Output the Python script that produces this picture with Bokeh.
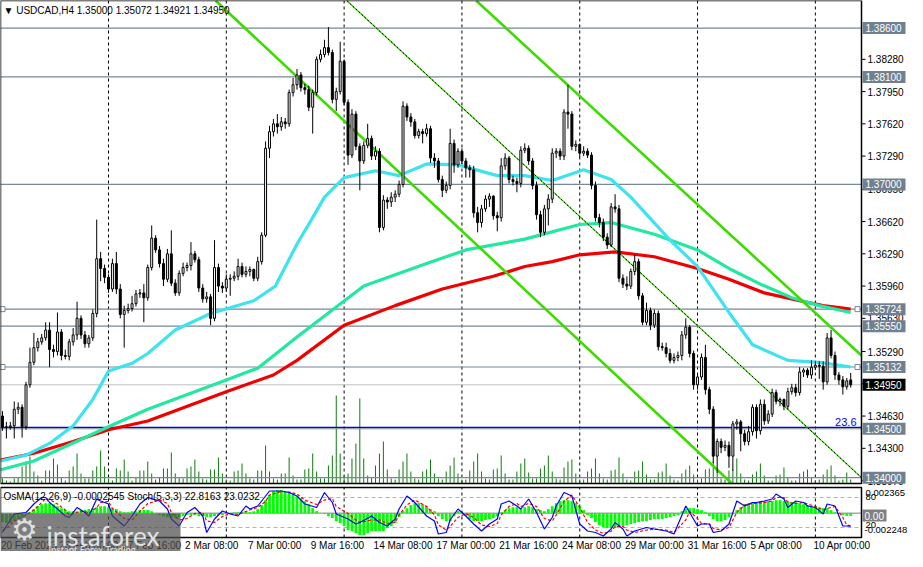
import numpy as np
from bokeh.plotting import figure
from bokeh.models import Range1d
from bokeh.core.properties import value
from bokeh.embed import file_html
from bokeh.resources import INLINE

FONT = "Liberation Sans"

# ---------------- data ----------------
header_text = "\u25bc USDCAD,H4  1.35000 1.35072 1.34921 1.34950"
indicator_text = "OsMA(12,26,9) -0.0002545  Stoch(5,3,3) 22.8163 23.0232"

opens = [
 1.3463, 1.3452, 1.3452, 1.3453, 1.3470, 1.3472, 1.3452, 1.3495, 1.3518, 1.3533,
 1.3539, 1.3543, 1.3551, 1.3531, 1.3529, 1.3549, 1.3525, 1.3524, 1.3539, 1.3546,
 1.3563, 1.3546, 1.3537, 1.3543, 1.3568, 1.3624, 1.3614, 1.3605, 1.3593, 1.3619,
 1.3593, 1.3567, 1.3571, 1.3573, 1.3578, 1.3588, 1.3589, 1.3584, 1.3615, 1.3645,
 1.3633, 1.3619, 1.3603, 1.3629, 1.3599, 1.3589, 1.3609, 1.3615, 1.3617, 1.3629,
 1.3623, 1.3594, 1.3583, 1.3585, 1.3563, 1.3615, 1.3596, 1.3594, 1.3603, 1.3604,
 1.3606, 1.3616, 1.3608, 1.3611, 1.3613, 1.3604, 1.3621, 1.3648, 1.3737, 1.3754,
 1.3762, 1.3759, 1.3764, 1.3762, 1.3794, 1.3802, 1.3812, 1.3799, 1.3797, 1.3779,
 1.3794, 1.3828, 1.3833, 1.3840, 1.3835, 1.3787, 1.3795, 1.3826, 1.3784, 1.3730,
 1.3772, 1.3739, 1.3724, 1.3740, 1.3747, 1.3729, 1.3734, 1.3656, 1.3684, 1.3682,
 1.3687, 1.3690, 1.3700, 1.3780, 1.3769, 1.3764, 1.3750, 1.3754, 1.3752, 1.3757,
 1.3727, 1.3724, 1.3705, 1.3694, 1.3699, 1.3742, 1.3720, 1.3734, 1.3724, 1.3717,
 1.3715, 1.3671, 1.3661, 1.3675, 1.3685, 1.3688, 1.3668, 1.3666, 1.3719, 1.3727,
 1.3705, 1.3703, 1.3701, 1.3735, 1.3737, 1.3724, 1.3699, 1.3669, 1.3651, 1.3675,
 1.3685, 1.3732, 1.3734, 1.3729, 1.3774, 1.3772, 1.3739, 1.3741, 1.3732, 1.3734,
 1.3730, 1.3699, 1.3666, 1.3661, 1.3646, 1.3638, 1.3677, 1.3675, 1.3604, 1.3598,
 1.3596, 1.3611, 1.3621, 1.3586, 1.3559, 1.3571, 1.3556, 1.3568, 1.3534, 1.3533,
 1.3527, 1.3520, 1.3523, 1.3525, 1.3546, 1.3554, 1.3527, 1.3495, 1.3503, 1.3523,
 1.3490, 1.3470, 1.3422, 1.3437, 1.3431, 1.3433, 1.3422, 1.3455, 1.3457, 1.3445,
 1.3437, 1.3447, 1.3472, 1.3448, 1.3475, 1.3458, 1.3465, 1.3487, 1.3478, 1.3480,
 1.3473, 1.3488, 1.3492, 1.3487, 1.3508, 1.3510, 1.3505, 1.3513, 1.3515, 1.3514,
 1.3498, 1.3543, 1.3525, 1.3505, 1.3500, 1.3493, 1.35000]

highs = [
 1.3468, 1.3457, 1.3457, 1.3478, 1.3477, 1.3475, 1.3498, 1.3533, 1.3548, 1.3543,
 1.3547, 1.3559, 1.3559, 1.3536, 1.3569, 1.3552, 1.3531, 1.3542, 1.3553, 1.3580,
 1.3566, 1.3550, 1.3546, 1.3572, 1.3664, 1.3631, 1.3618, 1.3608, 1.3624, 1.3631,
 1.3598, 1.3576, 1.3578, 1.3586, 1.3592, 1.3593, 1.3598, 1.3618, 1.3658, 1.3648,
 1.3637, 1.3624, 1.3634, 1.3653, 1.3603, 1.3612, 1.3620, 1.3620, 1.3641, 1.3632,
 1.3626, 1.3598, 1.3590, 1.3588, 1.3643, 1.3619, 1.3600, 1.3608, 1.3608, 1.3611,
 1.3624, 1.3620, 1.3616, 1.3616, 1.3614, 1.3626, 1.3651, 1.3744, 1.3760, 1.3767,
 1.3772, 1.3769, 1.3768, 1.3797, 1.3809, 1.3818, 1.3815, 1.3803, 1.3801, 1.3797,
 1.3831, 1.3838, 1.3848, 1.3861, 1.3838, 1.3799, 1.3846, 1.3828, 1.3787, 1.3777,
 1.3775, 1.3742, 1.3744, 1.3762, 1.3750, 1.3739, 1.3737, 1.3689, 1.3687, 1.3692,
 1.3694, 1.3704, 1.3785, 1.3783, 1.3773, 1.3767, 1.3757, 1.3757, 1.3762, 1.3760,
 1.3732, 1.3727, 1.3709, 1.3703, 1.3757, 1.3746, 1.3737, 1.3737, 1.3727, 1.3720,
 1.3719, 1.3677, 1.3679, 1.3689, 1.3691, 1.3689, 1.3672, 1.3727, 1.3732, 1.3729,
 1.3709, 1.3707, 1.3739, 1.3742, 1.3740, 1.3727, 1.3703, 1.3673, 1.3679, 1.3690,
 1.3737, 1.3737, 1.3737, 1.3777, 1.3802, 1.3775, 1.3745, 1.3742, 1.3739, 1.3737,
 1.3733, 1.3703, 1.3670, 1.3665, 1.3650, 1.3681, 1.3690, 1.3679, 1.3608, 1.3606,
 1.3614, 1.3628, 1.3624, 1.3589, 1.3579, 1.3574, 1.3572, 1.3571, 1.3538, 1.3538,
 1.3532, 1.3527, 1.3529, 1.3550, 1.3563, 1.3556, 1.3530, 1.3507, 1.3527, 1.3536,
 1.3493, 1.3473, 1.3440, 1.3440, 1.3438, 1.3437, 1.3458, 1.3460, 1.3459, 1.3449,
 1.3453, 1.3475, 1.3475, 1.3480, 1.3480, 1.3469, 1.3491, 1.3490, 1.3482, 1.3481,
 1.3492, 1.3496, 1.3496, 1.3513, 1.3512, 1.3512, 1.3520, 1.3519, 1.3519, 1.3519,
 1.3548, 1.3551, 1.3529, 1.3508, 1.3504, 1.3502, 1.35072]

lows = [
 1.3448, 1.3440, 1.3449, 1.3440, 1.3465, 1.3441, 1.3449, 1.3492, 1.3515, 1.3529,
 1.3536, 1.3540, 1.3513, 1.3523, 1.3525, 1.3520, 1.3521, 1.3520, 1.3535, 1.3541,
 1.3542, 1.3533, 1.3533, 1.3540, 1.3564, 1.3601, 1.3599, 1.3589, 1.3590, 1.3588,
 1.3563, 1.3533, 1.3568, 1.3570, 1.3575, 1.3584, 1.3559, 1.3581, 1.3612, 1.3630,
 1.3615, 1.3596, 1.3600, 1.3596, 1.3586, 1.3586, 1.3606, 1.3611, 1.3612, 1.3620,
 1.3590, 1.3579, 1.3579, 1.3556, 1.3560, 1.3590, 1.3589, 1.3590, 1.3586, 1.3601,
 1.3602, 1.3605, 1.3605, 1.3606, 1.3601, 1.3601, 1.3618, 1.3646, 1.3727, 1.3749,
 1.3752, 1.3755, 1.3757, 1.3759, 1.3790, 1.3797, 1.3795, 1.3792, 1.3775, 1.3752,
 1.3791, 1.3825, 1.3830, 1.3832, 1.3783, 1.3775, 1.3792, 1.3781, 1.3720, 1.3727,
 1.3735, 1.3694, 1.3721, 1.3737, 1.3725, 1.3725, 1.3651, 1.3653, 1.3675, 1.3677,
 1.3682, 1.3687, 1.3697, 1.3765, 1.3759, 1.3747, 1.3747, 1.3742, 1.3749, 1.3722,
 1.3717, 1.3702, 1.3687, 1.3691, 1.3695, 1.3712, 1.3717, 1.3721, 1.3707, 1.3707,
 1.3666, 1.3651, 1.3656, 1.3672, 1.3677, 1.3664, 1.3652, 1.3662, 1.3715, 1.3701,
 1.3699, 1.3692, 1.3697, 1.3732, 1.3720, 1.3695, 1.3664, 1.3646, 1.3648, 1.3658,
 1.3681, 1.3727, 1.3725, 1.3725, 1.3757, 1.3735, 1.3734, 1.3728, 1.3729, 1.3727,
 1.3695, 1.3662, 1.3656, 1.3642, 1.3634, 1.3636, 1.3671, 1.3600, 1.3594, 1.3592,
 1.3593, 1.3607, 1.3582, 1.3556, 1.3556, 1.3551, 1.3553, 1.3530, 1.3530, 1.3523,
 1.3517, 1.3517, 1.3519, 1.3520, 1.3542, 1.3523, 1.3490, 1.3490, 1.3500, 1.3485,
 1.3465, 1.3415, 1.3405, 1.3425, 1.3427, 1.3410, 1.3407, 1.3449, 1.3427, 1.3433,
 1.3433, 1.3443, 1.3440, 1.3444, 1.3454, 1.3455, 1.3462, 1.3475, 1.3473, 1.3469,
 1.3470, 1.3485, 1.3483, 1.3484, 1.3503, 1.3502, 1.3501, 1.3510, 1.3501, 1.3490,
 1.3495, 1.3522, 1.3500, 1.3495, 1.3485, 1.3490, 1.34921]

closes = [
 1.3452, 1.3452, 1.3453, 1.3470, 1.3472, 1.3452, 1.3495, 1.3518, 1.3533, 1.3539,
 1.3543, 1.3551, 1.3531, 1.3529, 1.3549, 1.3525, 1.3524, 1.3539, 1.3546, 1.3563,
 1.3546, 1.3537, 1.3543, 1.3568, 1.3624, 1.3614, 1.3605, 1.3593, 1.3619, 1.3593,
 1.3567, 1.3571, 1.3573, 1.3578, 1.3588, 1.3589, 1.3584, 1.3615, 1.3645, 1.3633,
 1.3619, 1.3603, 1.3629, 1.3599, 1.3589, 1.3609, 1.3615, 1.3617, 1.3629, 1.3623,
 1.3594, 1.3583, 1.3585, 1.3563, 1.3615, 1.3596, 1.3594, 1.3603, 1.3604, 1.3606,
 1.3616, 1.3608, 1.3611, 1.3613, 1.3604, 1.3621, 1.3648, 1.3737, 1.3754, 1.3762,
 1.3759, 1.3764, 1.3762, 1.3794, 1.3802, 1.3812, 1.3799, 1.3797, 1.3779, 1.3794,
 1.3828, 1.3833, 1.3840, 1.3835, 1.3787, 1.3795, 1.3826, 1.3784, 1.3730, 1.3772,
 1.3739, 1.3724, 1.3740, 1.3747, 1.3729, 1.3734, 1.3656, 1.3684, 1.3682, 1.3687,
 1.3690, 1.3700, 1.3780, 1.3769, 1.3764, 1.3750, 1.3754, 1.3752, 1.3757, 1.3727,
 1.3724, 1.3705, 1.3694, 1.3699, 1.3742, 1.3720, 1.3734, 1.3724, 1.3717, 1.3715,
 1.3671, 1.3661, 1.3675, 1.3685, 1.3688, 1.3668, 1.3666, 1.3719, 1.3727, 1.3705,
 1.3703, 1.3701, 1.3735, 1.3737, 1.3724, 1.3699, 1.3669, 1.3651, 1.3675, 1.3685,
 1.3732, 1.3734, 1.3729, 1.3774, 1.3772, 1.3739, 1.3741, 1.3732, 1.3734, 1.3730,
 1.3699, 1.3666, 1.3661, 1.3646, 1.3638, 1.3677, 1.3675, 1.3604, 1.3598, 1.3596,
 1.3611, 1.3621, 1.3586, 1.3559, 1.3571, 1.3556, 1.3568, 1.3534, 1.3533, 1.3527,
 1.3520, 1.3523, 1.3525, 1.3546, 1.3554, 1.3527, 1.3495, 1.3503, 1.3523, 1.3490,
 1.3470, 1.3422, 1.3437, 1.3431, 1.3433, 1.3422, 1.3455, 1.3457, 1.3445, 1.3437,
 1.3447, 1.3472, 1.3448, 1.3475, 1.3458, 1.3465, 1.3487, 1.3478, 1.3480, 1.3473,
 1.3488, 1.3492, 1.3487, 1.3508, 1.3510, 1.3505, 1.3513, 1.3515, 1.3514, 1.3498,
 1.3543, 1.3525, 1.3505, 1.3500, 1.3493, 1.3499, 1.34950]

volumes = [
 250, 150, 100, 250, 300, 850, 1100, 1350, 600, 400,
 150, 650, 650, 1250, 950, 300, 150, 650, 850, 1500,
 500, 250, 250, 650, 850, 1650, 850, 250, 150, 750,
 650, 1200, 600, 150, 300, 650, 650, 1100, 500, 200,
 300, 750, 750, 1550, 500, 300, 250, 750, 850, 1200,
 600, 250, 200, 700, 700, 1300, 500, 200, 150, 600,
 650, 1000, 500, 250, 200, 650, 650, 1900, 600, 250,
 200, 500, 500, 1300, 400, 200, 200, 700, 750, 1500,
 600, 250, 250, 900, 1400, 4400, 1500, 400, 500, 1250,
 2000, 4250, 1250, 400, 300, 900, 1500, 2100, 700, 250,
 200, 700, 1100, 1500, 600, 250, 200, 600, 700, 1200,
 500, 250, 200, 600, 900, 1300, 500, 200, 200, 650,
 1100, 1500, 600, 250, 200, 700, 750, 1400, 500, 200,
 200, 600, 1000, 1250, 550, 250, 250, 750, 900, 1400,
 600, 250, 200, 800, 1100, 1200, 500, 200, 200, 600,
 750, 1250, 500, 250, 200, 650, 700, 1300, 500, 200,
 150, 600, 650, 1100, 450, 200, 200, 550, 600, 1000,
 400, 200, 150, 500, 700, 900, 450, 200, 250, 700,
 750, 1100, 600, 250, 200, 650, 700, 1250, 500, 200,
 150, 450, 600, 1000, 400, 150, 150, 400, 450, 800,
 300, 150, 150, 500, 600, 700, 300, 150, 200, 450,
 700, 900, 400, 150, 200, 550, 200]

# moving averages (bar index, price)
ma_fast_bars = [-0.5, 6, 12, 18, 23, 27, 33, 37, 44, 53, 64, 69.5, 75, 79, 82, 87, 95, 101,
                108, 116, 126, 133, 140, 148, 155, 160, 170, 177, 185, 191, 200, 208, 216]
ma_fast = [1.3417, 1.3423, 1.3435, 1.3453, 1.3480, 1.3509, 1.3517, 1.3527, 1.3551, 1.3568,
           1.3581, 1.3596, 1.3639, 1.3666, 1.3687, 1.3707, 1.3714, 1.3709, 1.3721, 1.3720,
           1.3709, 1.3709, 1.3704, 1.3715, 1.3705, 1.3687, 1.3643, 1.3616, 1.3569, 1.3536,
           1.3520, 1.3518, 1.35132]
ma_mid_bars = [-0.5, 8, 27, 37, 57, 65, 75, 92, 108, 118, 133, 147, 155, 166, 177, 185,
               193, 201, 208, 216]
ma_mid = [1.3408, 1.3417, 1.3452, 1.3470, 1.3500, 1.3512, 1.3544, 1.3596, 1.3619, 1.3633,
          1.3644, 1.3659, 1.3661, 1.3649, 1.3633, 1.3614, 1.3598, 1.3584, 1.3576, 1.3569]
ma_slow_bars = [-0.5, 8, 18, 27, 37, 57, 69, 75, 87, 100, 112, 125, 133, 140, 147, 156,
                166, 177, 185, 194, 203, 209, 216]
ma_slow = [1.3418, 1.3425, 1.3437, 1.3449, 1.3458, 1.3488, 1.3505, 1.3520, 1.3556, 1.3576,
           1.3593, 1.3606, 1.3616, 1.3621, 1.3628, 1.3631, 1.3626, 1.3614, 1.3603, 1.3589,
           1.3581, 1.3576, 1.35724]

# channel lines (bar index, price)
chan_a_bars, chan_a_prices = [54.3, 185.75], [1.3888, 1.3394]
chan_b_bars, chan_b_prices = [120.65, 218.75], [1.3888, 1.3525]
chan_c_bars, chan_c_prices = [87.7, 218.75], [1.3888, 1.3400]

levels = [1.38600, 1.38100, 1.37000, 1.35724, 1.35550, 1.35132, 1.34500, 1.34000]
anchored_levels = [1.35724, 1.35132]
bid = 1.34950
fib_236 = 1.34515
price_ticks = [1.3397, 1.3430, 1.3463, 1.3496, 1.3529, 1.3563, 1.3596, 1.3629, 1.3662,
               1.3695, 1.3729, 1.3762, 1.3795, 1.3828]
price_top, price_bottom = 1.38882, 1.33940

time_labels = ["20 Feb 2023", "23 Feb 00:00", "27 Feb 16:00", "2 Mar 08:00", "7 Mar 00:00",
               "9 Mar 16:00", "14 Mar 08:00", "17 Mar 00:00", "21 Mar 16:00", "24 Mar 08:00",
               "29 Mar 00:00", "31 Mar 16:00", "5 Apr 08:00", "10 Apr 00:00"]
time_label_bars = [-0.9, 14, 30, 46, 62, 78, 94, 110, 126, 142, 158, 174, 190, 206]
grid_bars = [27, 57, 87, 117, 147, 177, 207]

# OsMA histogram (units of 0.0001)
osma_e4 = [
 -8.3, -9.2, -9.2, -7.4, -5.5, -3.7, -1.8, 0.9, 3.7, 6.4,
 8.3, 9.2, 9.2, 8.3, 6.4, 4.6, 2.8, 1.8, 1.8, 1.8,
 2.8, 2.8, 3.7, 4.6, 5.5, 6.4, 6.4, 5.5, 4.6, 3.7,
 1.8, 0.9, 0.9, 1.8, 1.8, 2.8, 2.8, 2.8, 1.8, 0.2,
 -1.8, -2.8, -3.7, -4.6, -4.6, -3.7, -2.8, -1.8, -1.8, -1.8,
 -2.8, -2.8, -3.7, -3.7, -2.8, -1.8, -1.8, -0.9, -0.2, 0.9,
 0.9, 0.9, 1.8, 0.9, 1.8, 3.7, 7.4, 12.0, 16.6, 20.3,
 21.2, 21.2, 20.3, 19.4, 17.5, 15.7, 13.8, 11.1, 8.3, 4.6,
 1.8, 0.2, -0.9, -2.8, -4.6, -7.4, -9.2, -12.0, -15.7, -16.6,
 -18.5, -20.3, -20.3, -18.5, -16.6, -16.6, -16.6, -16.6, -13.8, -12.0,
 -9.2, -3.7, 1.8, 4.6, 7.4, 9.2, 9.2, 8.3, 6.4, 3.7,
 1.8, -2.8, -5.5, -7.4, -7.4, -2.8, 1.8, 0.9, -2.8, -5.5,
 -7.4, -7.4, -7.4, -6.4, -5.5, -4.6, -2.8, 0.9, 2.8, 4.6,
 5.5, 5.5, 4.6, 5.5, 6.4, 5.5, 3.7, 2.8, 1.8, 3.7,
 6.4, 9.2, 11.1, 12.0, 12.0, 11.1, 9.2, 6.4, 2.8, -1.8,
 -4.6, -8.3, -11.1, -12.9, -13.8, -13.8, -13.8, -12.9, -12.0, -11.1,
 -10.1, -9.2, -8.3, -7.4, -7.4, -6.4, -5.5, -5.5, -5.5, -4.6,
 -3.7, -2.8, -1.8, 1.8, 3.7, 4.6, 4.6, 3.7, 2.8, 0.9,
 -2.8, -5.5, -7.4, -7.4, -6.4, -3.7, -0.9, 2.8, 5.5, 8.3,
 9.2, 10.1, 10.1, 11.1, 11.1, 11.1, 11.1, 12.0, 12.0, 11.1,
 11.1, 10.1, 10.1, 9.2, 8.3, 7.4, 6.4, 6.4, 5.5, 4.6,
 4.6, 2.8, 0.9, -0.9, -1.8, -2.545, -2.545]
osma_top, osma_bottom = 0.002365, -0.002248

stoch_bars = [0, 1, 3, 6, 8, 10, 11, 12, 14, 16, 17, 19, 21, 22, 24, 25, 27, 28, 31, 33,
              35, 37, 40, 42, 43, 45, 47, 49, 51, 52, 54, 56, 58, 60, 62, 63, 65, 67, 68, 71,
              73, 75, 77, 80, 82, 84, 85, 88, 90, 91, 94, 96, 98, 100, 101, 103, 105, 108, 110, 111,
              113, 114, 116, 118, 120, 122, 124, 126, 127, 129, 131, 132, 134, 136, 138, 140, 141, 143, 145, 147,
              149, 151, 153, 155, 156, 158, 159, 161, 164, 166, 169, 171, 174, 175, 177, 178, 180, 181, 183, 185,
              187, 189, 191, 192, 194, 196, 197, 199, 200, 202, 204, 205, 207, 209, 210, 212, 214, 215, 216]
stoch_main = [10, 23, 47, 50, 67, 80, 80, 70, 57, 43, 40, 60, 50, 43, 77, 73, 67, 43, 23, 43,
              67, 80, 73, 57, 37, 23, 50, 60, 43, 10, 37, 53, 47, 43, 63, 57, 63, 83, 93, 93,
              90, 83, 67, 60, 90, 70, 47, 37, 27, 30, 43, 30, 23, 37, 57, 83, 70, 43, 33, 7,
              10, 35, 57, 43, 27, 13, 27, 37, 67, 73, 63, 57, 77, 50, 17, 40, 63, 90, 83, 27,
              13, 10, 3, 17, 30, 17, 3, 13, 20, 17, 13, 7, 63, 50, 23, 27, 27, 10, 13, 27,
              73, 63, 70, 70, 73, 77, 87, 77, 60, 73, 70, 63, 60, 47, 67, 63, 23, 23, 22.8163]
stoch_signal = [15, 18, 33, 45, 55, 70, 78, 76, 67, 55, 45, 50, 53, 48, 60, 70, 72, 58, 38, 35,
                52, 68, 75, 68, 50, 35, 38, 48, 50, 33, 30, 42, 48, 46, 52, 55, 60, 72, 85, 92,
                91, 87, 75, 66, 75, 78, 62, 48, 35, 30, 35, 35, 28, 30, 45, 65, 75, 62, 45, 25,
                15, 22, 40, 48, 40, 25, 22, 28, 45, 62, 68, 62, 68, 62, 38, 33, 45, 72, 85, 60,
                30, 15, 8, 12, 22, 22, 15, 10, 15, 17, 15, 10, 35, 52, 38, 28, 27, 18, 15, 20,
                50, 65, 68, 68, 70, 73, 80, 80, 70, 68, 70, 67, 62, 55, 58, 62, 40, 25, 23.0232]
stoch_levels = [80, 20]

# ---------------- layout (pixels of the 907x551 canvas) ----------------
W, H = 907, 551
MAIN_TOP, MAIN_BOT = 0, 483
IND_TOP, IND_BOT = 487, 537
X0, X_BORDER = -0.5, 218.75
BPP = (X_BORDER - X0) / 861.0          # bars per pixel
X_END = X0 + W * BPP


def px(n):
    return n * BPP


def fit_range(v_top, px_top, v_bot, px_bot):
    per = (v_top - v_bot) / float(px_bot - px_top)
    return Range1d(start=v_bot - (H - px_bot) * per, end=v_top + px_top * per)


p = figure(width=W, height=H, x_range=Range1d(X0, X_END),
           y_range=fit_range(price_top, MAIN_TOP, price_bottom, MAIN_BOT),
           toolbar_location=None, output_backend="svg",
           min_border_left=0, min_border_right=0, min_border_top=0, min_border_bottom=0,
           x_axis_location=None, y_axis_location=None, outline_line_color=None,
           background_fill_color="white", border_fill_color="white")
p.grid.visible = False
VOL_PER_PX = 50
p.extra_y_ranges = {
    "vol": fit_range(VOL_PER_PX * (MAIN_BOT - MAIN_TOP), MAIN_TOP, 0, MAIN_BOT),
    "stoch": fit_range(100, IND_TOP, 0, IND_BOT),
    "osma": fit_range(osma_top, IND_TOP, osma_bottom, IND_BOT),
}

n = len(closes)
bars = np.arange(n)
o = np.array(opens)
c = np.array(closes)
hi = np.array(highs)
lo = np.array(lows)


def txt(x, y, t, size="10px", color="black", align="left", baseline="middle",
        font=FONT, yr="default"):
    xs = x if isinstance(x, (list, tuple)) else [x]
    ys = y if isinstance(y, (list, tuple)) else [y]
    ts = t if isinstance(t, (list, tuple)) else [t]
    p.text(x=xs, y=ys, text=ts, text_font=value(font), text_font_size=value(size),
           text_color=color, text_align=align, text_baseline=baseline, y_range_name=yr)


# ======== main panel ========
ng = len(grid_bars)
p.segment(x0=grid_bars, x1=grid_bars, y0=[price_bottom] * ng, y1=[price_top] * ng,
          line_color="black", line_width=1, line_dash="3 3")

p.segment(x0=bars, y0=np.zeros(n), x1=bars, y1=np.array(volumes), y_range_name="vol",
          line_color="#0f7a0f", line_width=1)

nl = len(levels)
p.segment(x0=[X0] * nl, x1=[X_BORDER] * nl, y0=levels, y1=levels,
          line_color="#778899", line_width=1.2)
p.segment(x0=[X0], x1=[X_BORDER], y0=[bid], y1=[bid], line_color="#c0c0c0", line_width=1)
p.segment(x0=[X0], x1=[X_BORDER], y0=[fib_236], y1=[fib_236], line_color="#0000ff",
          line_width=1.2)

p.line(ma_slow_bars, ma_slow, line_color="#f00000", line_width=3.2, line_join="round")
p.line(ma_mid_bars, ma_mid, line_color="#22e8a0", line_width=3.2, line_join="round")
p.line(ma_fast_bars, ma_fast, line_color="#3ee3ef", line_width=3.2, line_join="round")

p.line(chan_a_bars, chan_a_prices, line_color="#3cdc00", line_width=2.6)
p.line(chan_b_bars, chan_b_prices, line_color="#3cdc00", line_width=2.6)
p.line(chan_c_bars, chan_c_prices, line_color="#3cdc00", line_width=1.2)
p.line(chan_c_bars, chan_c_prices, line_color="black", line_width=1, line_dash="2 2")

na = len(anchored_levels)
p.scatter(x=[X0 + px(2)] * na + [X_BORDER - px(4)] * na, y=anchored_levels + anchored_levels,
          marker="square", size=5, fill_color="white", line_color="#778899", line_width=1)

up = c >= o
p.segment(x0=bars, y0=lo, x1=bars, y1=hi, line_color="black", line_width=1)
p.vbar(x=bars[up], top=c[up], bottom=o[up], width=0.5, fill_color="white",
       line_color="black", line_width=1)
p.vbar(x=bars[~up], top=o[~up], bottom=c[~up], width=0.5, fill_color="black",
       line_color="black", line_width=1)

# panel frame
p.quad(left=[X0], right=[X_BORDER], bottom=[price_bottom], top=[price_top],
       fill_color=None, line_color="black", line_width=1.5)

# price scale on the right
nt = len(price_ticks)
p.segment(x0=[X_BORDER] * nt, x1=[X_BORDER + px(4)] * nt, y0=price_ticks, y1=price_ticks,
          line_color="black", line_width=1)
txt([X_BORDER + px(6)] * nt, price_ticks, [f"{t:.5f}" for t in price_ticks])

box_x = X_BORDER + px(1 + 21.5)
p.rect(x=[box_x] * nl, y=levels, width=43, height=12, width_units="screen",
       height_units="screen", fill_color="#708090", line_color=None)
p.rect(x=[box_x], y=[bid], width=43, height=12, width_units="screen",
       height_units="screen", fill_color="black", line_color=None)
txt([X_BORDER + px(4)] * nl, levels, [f"{v:.5f}" for v in levels], color="white")
txt(X_BORDER + px(4), bid, f"{bid:.5f}", color="white")

txt(X0 + px(3), price_top - 10 * (price_top - price_bottom) / 491.0, header_text)
txt(X_BORDER - px(5), fib_236 + 0.00057, "23.6", size="11px", color="#0000ff", align="right")

# ======== indicator panel ========
p.segment(x0=grid_bars, x1=grid_bars, y0=[0] * ng, y1=[100] * ng, y_range_name="stoch",
          line_color="black", line_width=1, line_dash="3 3")
p.segment(x0=[X0] * 2, x1=[X_BORDER] * 2, y0=stoch_levels, y1=stoch_levels,
          y_range_name="stoch", line_color="#b4b4b4", line_width=1, line_dash="4 3")
p.segment(x0=[X0], x1=[X_BORDER], y0=[0], y1=[0], y_range_name="osma",
          line_color="#808080", line_width=1)
osma = np.array(osma_e4) * 1e-4
p.vbar(x=bars, top=osma, bottom=np.zeros(n), width=0.72, y_range_name="osma",
       fill_color="#00ff00", line_color=None)
p.line(stoch_bars, stoch_signal, y_range_name="stoch", line_color="#ff0000",
       line_width=1.2, line_dash="3 2")
p.line(stoch_bars, stoch_main, y_range_name="stoch", line_color="#0000ff", line_width=1.2)
p.quad(left=[X0], right=[X_BORDER], bottom=[0], top=[100], y_range_name="stoch",
       fill_color=None, line_color="black", line_width=1.5)

txt(X0 + px(3), 82, indicator_text, yr="stoch")
txt(X_BORDER + px(4), 89, "0.002365", size="9.5px", yr="stoch")
txt(X_BORDER + px(4), 81, "80", size="9.5px", yr="stoch")
p.rect(x=[X_BORDER + px(1 + 12)], y=[44], width=24, height=12, width_units="screen",
       height_units="screen", fill_color="#808080", line_color=None, y_range_name="stoch")
txt(X_BORDER + px(3), 44, "0.00", color="white", yr="stoch")
txt(X_BORDER + px(4), 26, "20", size="9.5px", yr="stoch")
txt(X_BORDER + px(3), 15, "-0.002248", size="9.5px", yr="stoch")

txt([b + 0.5 for b in time_label_bars], [-15] * len(time_labels), time_labels, yr="stoch")

# watermark logo
p.quad(left=[X0], right=[X0 + px(180)], bottom=[-40], top=[48], y_range_name="stoch",
       fill_color="#4e4e4e", fill_alpha=0.72, line_color=None)
txt(X0 + px(24), 16, "\u2699", size="30px", color="#dedede", align="center",
    font="DejaVu Sans", yr="stoch")
txt(X0 + px(46), 4, "instaforex", size="26px", color="#e2e2e2", baseline="alphabetic",
    font="Lato", yr="stoch")
txt(X0 + px(48), -24, "Instant Forex Trading", size="9.5px", color="#e2e2e2",
    baseline="alphabetic", font="Lato", yr="stoch")

open("out.html", "w").write(file_html(p, INLINE))
